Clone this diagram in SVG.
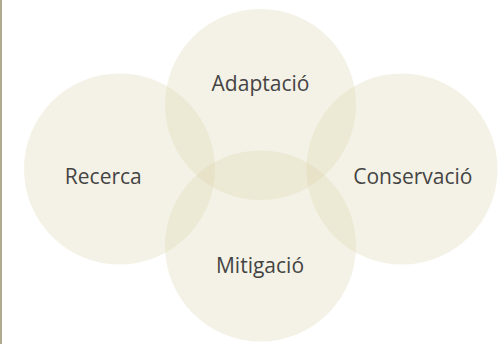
<svg xmlns="http://www.w3.org/2000/svg" width="501" height="344" viewBox="0 0 501 344">
<style>
.c{fill:#dad4ac;fill-opacity:0.3}
.t{font-family:"Open Sans","Noto Sans",sans-serif;font-size:21px;fill:#444444;text-anchor:middle}
</style>
<rect x="0" y="0" width="501" height="344" fill="#ffffff"/>
<rect x="0" y="0" width="2" height="344" fill="#b0ab90"/>
<g id="adaptacio"><circle class="c" cx="260.5" cy="104.5" r="95.5"/><text class="t" x="260.5" y="91">Adaptació</text></g>
<g id="recerca"><circle class="c" cx="119.5" cy="169" r="95.5"/><text class="t" x="103.3" y="184">Recerca</text></g>
<g id="conservacio"><circle class="c" cx="402" cy="169" r="95.5"/><text class="t" x="412.8" y="184">Conservació</text></g>
<g id="mitigacio"><circle class="c" cx="260.5" cy="246" r="95.5"/><text class="t" x="260" y="272.5">Mitigació</text></g>
<g id="connectors"></g>
</svg>
